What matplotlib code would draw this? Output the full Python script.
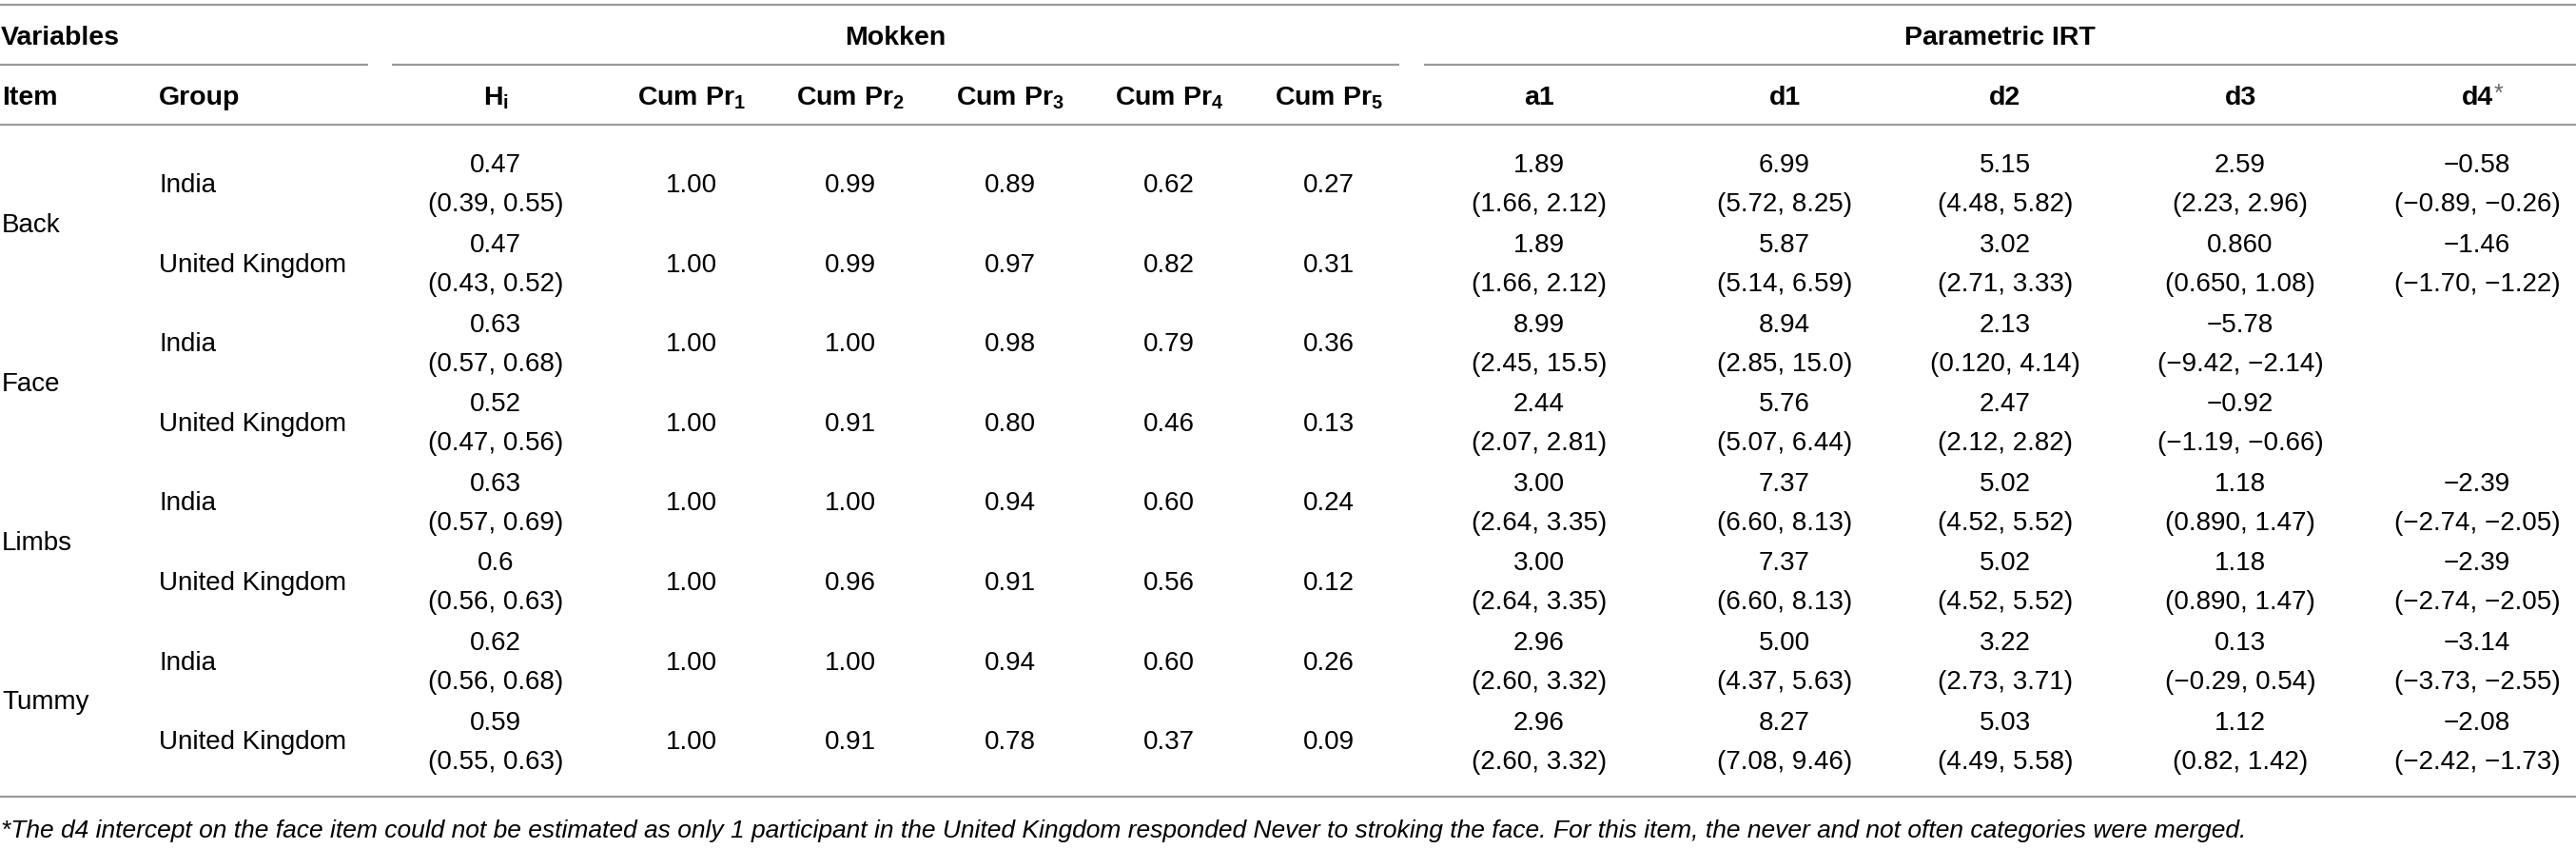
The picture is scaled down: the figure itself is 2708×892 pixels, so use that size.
import matplotlib
matplotlib.use('Agg')
import matplotlib.pyplot as plt

plt.rcParams['font.family'] = ['Liberation Sans', 'DejaVu Sans']
plt.rcParams['mathtext.fontset'] = 'custom'
plt.rcParams['mathtext.rm'] = 'Liberation Sans'
plt.rcParams['mathtext.it'] = 'Liberation Sans:italic'
plt.rcParams['mathtext.bf'] = 'Liberation Sans:bold'
plt.rcParams['mathtext.default'] = 'regular'

# ---------------- data ----------------
items = ['Back', 'Face', 'Limbs', 'Tummy']
groups = ['India', 'United Kingdom'] * 4
group_headers = ['Variables', 'Mokken', 'Parametric IRT']
col_headers = ['Item', 'Group', 'H$_{i}$', 'Cum Pr$_{1}$', 'Cum Pr$_{2}$', 'Cum Pr$_{3}$',
               'Cum Pr$_{4}$', 'Cum Pr$_{5}$', 'a1', 'd1', 'd2', 'd3', 'd4']
hi = ['0.47', '0.47', '0.63', '0.52', '0.63', '0.6', '0.62', '0.59']
hi_ci = ['(0.39, 0.55)', '(0.43, 0.52)', '(0.57, 0.68)', '(0.47, 0.56)',
         '(0.57, 0.69)', '(0.56, 0.63)', '(0.56, 0.68)', '(0.55, 0.63)']
cum_pr1 = ['1.00', '1.00', '1.00', '1.00', '1.00', '1.00', '1.00', '1.00']
cum_pr2 = ['0.99', '0.99', '1.00', '0.91', '1.00', '0.96', '1.00', '0.91']
cum_pr3 = ['0.89', '0.97', '0.98', '0.80', '0.94', '0.91', '0.94', '0.78']
cum_pr4 = ['0.62', '0.82', '0.79', '0.46', '0.60', '0.56', '0.60', '0.37']
cum_pr5 = ['0.27', '0.31', '0.36', '0.13', '0.24', '0.12', '0.26', '0.09']
a1 = ['1.89', '1.89', '8.99', '2.44', '3.00', '3.00', '2.96', '2.96']
a1_ci = ['(1.66, 2.12)', '(1.66, 2.12)', '(2.45, 15.5)', '(2.07, 2.81)',
         '(2.64, 3.35)', '(2.64, 3.35)', '(2.60, 3.32)', '(2.60, 3.32)']
d1 = ['6.99', '5.87', '8.94', '5.76', '7.37', '7.37', '5.00', '8.27']
d1_ci = ['(5.72, 8.25)', '(5.14, 6.59)', '(2.85, 15.0)', '(5.07, 6.44)',
         '(6.60, 8.13)', '(6.60, 8.13)', '(4.37, 5.63)', '(7.08, 9.46)']
d2 = ['5.15', '3.02', '2.13', '2.47', '5.02', '5.02', '3.22', '5.03']
d2_ci = ['(4.48, 5.82)', '(2.71, 3.33)', '(0.120, 4.14)', '(2.12, 2.82)',
         '(4.52, 5.52)', '(4.52, 5.52)', '(2.73, 3.71)', '(4.49, 5.58)']
d3 = ['2.59', '0.860', '\u22125.78', '\u22120.92', '1.18', '1.18', '0.13', '1.12']
d3_ci = ['(2.23, 2.96)', '(0.650, 1.08)', '(\u22129.42, \u22122.14)', '(\u22121.19, \u22120.66)',
         '(0.890, 1.47)', '(0.890, 1.47)', '(\u22120.29, 0.54)', '(0.82, 1.42)']
d4 = ['\u22120.58', '\u22121.46', '', '', '\u22122.39', '\u22122.39', '\u22123.14', '\u22122.08']
d4_ci = ['(\u22120.89, \u22120.26)', '(\u22121.70, \u22121.22)', '', '',
         '(\u22122.74, \u22122.05)', '(\u22122.74, \u22122.05)', '(\u22123.73, \u22122.55)',
         '(\u22122.42, \u22121.73)']
footnote = ('*The d4 intercept on the face item could not be estimated as only 1 participant '
            'in the United Kingdom responded Never to stroking the face. For this item, the '
            'never and not often categories were merged.')

# ---------------- layout ----------------
W, H = 2708, 892
fig = plt.figure(figsize=(W / 100, H / 100), dpi=100)
ax = fig.add_axes([0, 0, 1, 1])
ax.set_xlim(0, W)
ax.set_ylim(H, 0)
ax.axis('off')

BODY = 20
HEAD = 20.5
cap_body = BODY * 100 / 72 * 0.716 / 2
cap_head = HEAD * 100 / 72 * 0.716 / 2
line_kw = dict(color='#9a9a9a', lw=1.6, solid_capstyle='butt')

# rules
ax.plot([0, W], [4.7, 4.7], **line_kw)
ax.plot([0, 387], [67.7, 67.7], **line_kw)
ax.plot([412, 1471], [67.7, 67.7], **line_kw)
ax.plot([1497, W], [67.7, 67.7], **line_kw)
ax.plot([0, W], [130.7, 130.7], **line_kw)
ax.plot([0, W], [837, 837], **line_kw)

# group headers
y1 = 37 + cap_head
ax.text(1, y1, group_headers[0], fontsize=HEAD, fontweight='bold', ha='left', va='baseline')
ax.text((412 + 1471) / 2, y1, group_headers[1], fontsize=HEAD, fontweight='bold', ha='center', va='baseline')
ax.text((1497 + W) / 2, y1, group_headers[2], fontsize=HEAD, fontweight='bold', ha='center', va='baseline')

# column headers
col_x = [2, 167, 521, 727, 894, 1062, 1229, 1397, 1618, 1876, 2108, 2355, 2604]
y2 = 100 + cap_head
for i, (x, h) in enumerate(zip(col_x, col_headers)):
    ha = 'left' if i < 2 else 'center'
    t = ax.text(x, y2, h, fontsize=HEAD, fontweight='bold', ha=ha, va='baseline')
    if h == 'd4':
        fig.canvas.draw()
        bb = t.get_window_extent(fig.canvas.get_renderer())
        ax.text(bb.x1 + 1, y2 - 4, '*', fontsize=18, color='#666666', ha='left', va='baseline')

# body
row0, pitch, gap = 192, 83.6, 20.5
two_line = [(hi, hi_ci, col_x[2]), (a1, a1_ci, col_x[8]), (d1, d1_ci, col_x[9]),
            (d2, d2_ci, col_x[10]), (d3, d3_ci, col_x[11]), (d4, d4_ci, col_x[12])]
one_line = [(cum_pr1, col_x[3]), (cum_pr2, col_x[4]), (cum_pr3, col_x[5]),
            (cum_pr4, col_x[6]), (cum_pr5, col_x[7])]
for r in range(len(groups)):
    yc = row0 + pitch * r
    ax.text(col_x[1], yc + cap_body, groups[r], fontsize=BODY, ha='left', va='baseline')
    for vals, x in one_line:
        ax.text(x, yc + cap_body, vals[r], fontsize=BODY, ha='center', va='baseline')
    for vals, cis, x in two_line:
        if vals[r]:
            ax.text(x, yc - gap + cap_body, vals[r], fontsize=BODY, ha='center', va='baseline')
            ax.text(x, yc + gap + cap_body, cis[r], fontsize=BODY, ha='center', va='baseline')

for k, item in enumerate(items):
    yc = row0 + pitch * (2 * k + 0.5)
    ax.text(col_x[0], yc + cap_body, item, fontsize=BODY, ha='left', va='baseline')

# footnote, sized to span the measured width
fs = 17
ft = ax.text(1, 871 + fs * 100 / 72 * 0.716 / 2, footnote, fontsize=fs, style='italic',
             ha='left', va='baseline')
fig.canvas.draw()
wbb = ft.get_window_extent(fig.canvas.get_renderer())
fs2 = fs * 2363 / wbb.width
ft.set_fontsize(fs2)
ft.set_y(871 + fs2 * 100 / 72 * 0.716 / 2)

fig.savefig('out.png', dpi=100)
